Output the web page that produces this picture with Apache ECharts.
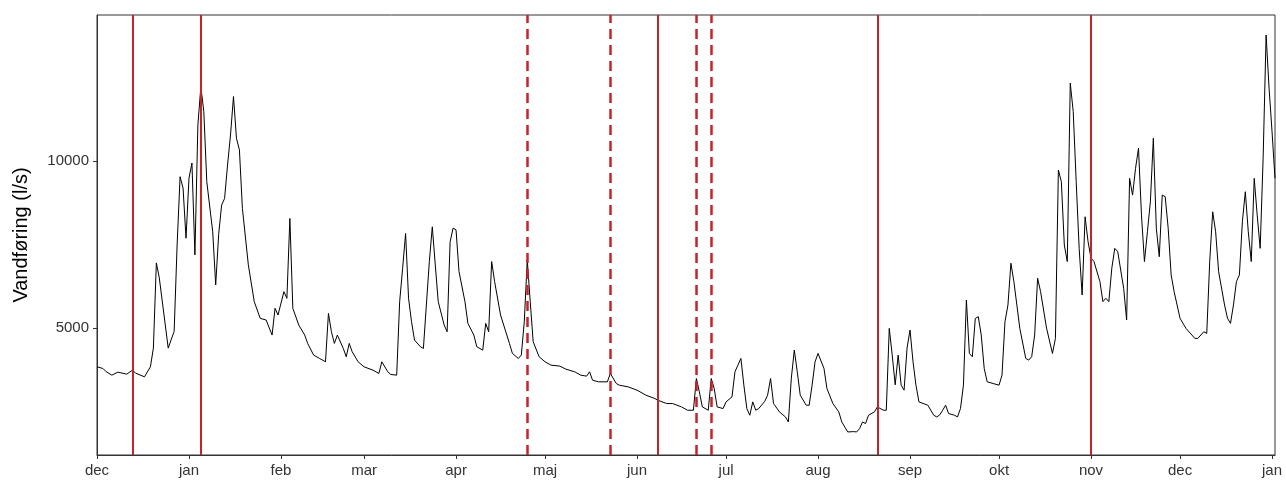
<!DOCTYPE html>
<html>
<head>
<meta charset="utf-8">
<script src="https://cdn.jsdelivr.net/npm/echarts@6/dist/echarts.min.js"></script>
<style>
html,body{margin:0;padding:0;background:#fff;}
#chart{width:1286px;height:482px;}
</style>
</head>
<body>
<div id="chart"></div>
<script>
// ---- data ----
const startDate = '2020-12-01';            // day 0 of the series
const endDate = '2022-01-02';              // right edge of the axis
const monthLabels = ['dec','jan','feb','mar','apr','maj','jun','jul','aug','sep','okt','nov','dec','jan'];
const monthTickDates = ['2020-12-01','2021-01-01','2021-02-01','2021-03-01','2021-04-01','2021-05-01','2021-06-01','2021-07-01','2021-08-01','2021-09-01','2021-10-01','2021-11-01','2021-12-01','2022-01-01'];
const yTickValues = [5000, 10000];
const solidEventDates = ['2020-12-13','2021-01-05','2021-06-08','2021-08-21','2021-11-01'];
const dashedEventDates = ['2021-04-25','2021-05-23','2021-06-21','2021-06-26'];

// days since start date
const flowDay = [
0,2,3,5,7,10,12,13,16,18,19,20,21,24,26,27,28,29,30,31,32,33,34,35,36,37,39,40,41,42,43,44,45,46,47,48,49,51,53,55,57,59,60,61,63,64,65,66,68,70,71,73,75,77,78,79,80,81,83,84,85,86,88,90,93,95,96,98,99,101,102,103,104,105,106,107,109,110,111,112,113,114,115,117,118,119,120,121,122,124,125,127,128,130,131,132,133,134,136,139,140,142,143,144,145,146,147,149,151,153,156,158,161,163,165,166,167,169,172,173,175,176,179,182,185,188,189,192,194,197,199,201,202,203,204,206,207,208,209,211,212,214,215,216,217,218,219,220,221,222,223,225,226,227,228,230,232,233,234,235,236,237,239,240,241,242,243,245,246,248,250,251,253,255,256,257,258,259,260,262,263,265,266,267,268,269,270,271,272,273,274,275,276,277,280,282,283,284,285,286,287,289,290,291,292,293,294,295,296,297,298,299,300,302,304,305,306,307,308,309,311,313,314,315,316,317,318,320,322,323,324,325,326,327,328,329,330,331,332,333,334,335,336,338,339,340,341,342,343,344,346,347,348,349,350,351,352,353,354,355,356,357,358,359,360,361,362,363,365,367,370,371,373,374,375,376,377,378,380,381,382,383,384,385,386,387,388,389,390,391,392,393,394,395,396,397
];
const flowValue = [
3840,3790,3700,3590,3680,3620,3740,3650,3540,3840,4400,6950,6500,4400,4900,7485,9530,9190,7690,9490,9940,7190,11080,12220,11480,9380,7880,6290,7800,8680,8880,9880,10780,11930,10680,10330,8580,6890,5790,5290,5240,4790,5590,5390,6090,5890,8280,5590,5090,4790,4540,4190,4090,3990,5440,4890,4540,4790,4390,4140,4540,4290,3990,3840,3740,3640,3990,3690,3610,3590,5790,6790,7830,5890,5190,4640,4440,4390,5690,6990,8030,6890,5790,5090,4890,7580,7990,7940,6690,5790,5140,4790,4440,4340,5140,4890,6990,6390,5390,4540,4240,4090,4190,5190,7040,5790,4590,4140,3990,3890,3860,3770,3690,3590,3560,3690,3440,3390,3390,3640,3340,3290,3240,3140,2990,2890,2840,2740,2740,2640,2540,2540,3490,3090,2640,2540,3490,3190,2640,2590,2790,2940,3690,3890,4090,3290,2590,2390,2790,2540,2590,2800,2990,3490,2740,2490,2340,2190,3500,4340,3690,2990,2690,2690,3290,3990,4240,3790,3190,2740,2490,2190,1890,1900,1890,1990,2190,2140,2390,2490,2640,2540,2540,4990,4190,3300,4190,3290,3140,4400,4940,4000,3290,2790,2690,2390,2340,2400,2540,2690,2440,2390,2340,2590,3290,5840,4240,4140,5290,5340,4790,3790,3390,3340,3290,3590,5190,5690,6940,6390,4990,4090,4040,4140,4790,6490,6090,5000,4240,4690,9730,9380,7485,6990,12330,11480,9380,7385,5990,8330,7585,7090,6990,6390,5790,5890,5790,6790,7385,7285,6190,5240,9480,8980,9780,10380,8380,6990,7880,8780,10680,7990,7135,8980,8930,7990,6590,6090,5290,4990,4690,4690,4890,4840,7000,8480,7880,6690,5690,5290,5140,5690,6390,6590,8180,9080,7880,6990,9480,8380,7385,10080,13770,12180,10880,9480,9330
];

// ---- build ----
const DAY = 86400000;
function utc(s){ const p = s.split('-').map(Number); return Date.UTC(p[0], p[1]-1, p[2]); }
const t0 = utc(startDate);
function dayOf(s){ return Math.round((utc(s) - t0) / DAY); }
const xMax = dayOf(endDate);
const tickDays = monthTickDates.map(dayOf);
const seriesData = flowDay.map((d, i) => [d, flowValue[i]]);

const red = '#c4232b';
const markData = solidEventDates.map(s => ({xAxis: dayOf(s), lineStyle: {type: 'solid', width: 2, color: red}}))
  .concat(dashedEventDates.map(s => ({xAxis: dayOf(s), lineStyle: {type: [10, 6], width: 2.5, color: red}})));

const chart = echarts.init(document.getElementById('chart'), null, {renderer: 'canvas'});
chart.setOption({
  animation: false,
  backgroundColor: '#fff',
  grid: {left: 97, right: 11, top: 15, bottom: 27, show: true, borderColor: '#333', borderWidth: 1, containLabel: false},
  xAxis: {
    type: 'value', min: 0, max: xMax,
    axisLine: {show: true, onZero: false, lineStyle: {color: '#333', width: 1}},
    axisTick: {show: true, customValues: tickDays, length: 4, lineStyle: {color: '#333'}},
    axisLabel: {
      customValues: tickDays, color: '#333', fontFamily: 'Liberation Sans', fontSize: 15, margin: 8,
      showMinLabel: true, showMaxLabel: true,
      formatter: function (v) { return monthLabels[tickDays.indexOf(Math.round(v))] || ''; }
    },
    splitLine: {show: false}
  },
  yAxis: {
    type: 'value', min: 1200, max: 14370,
    name: 'Vandføring (l/s)', nameLocation: 'middle', nameGap: 66,
    nameTextStyle: {color: '#000', fontFamily: 'Liberation Sans', fontSize: 20},
    axisLine: {show: true, onZero: false, lineStyle: {color: '#333', width: 1}},
    axisTick: {show: true, customValues: yTickValues, length: 4, lineStyle: {color: '#333'}},
    axisLabel: {customValues: yTickValues, color: '#333', fontFamily: 'Liberation Sans', fontSize: 15, margin: 8,
      formatter: function (v) { return String(v); }},
    splitLine: {show: false}
  },
  series: [{
    type: 'line', data: seriesData, showSymbol: false, symbol: 'none',
    lineStyle: {color: '#000', width: 1}, silent: true,
    markLine: {silent: true, symbol: ['none', 'none'], label: {show: false}, animation: false, data: markData}
  }]
});
</script>
</body>
</html>
